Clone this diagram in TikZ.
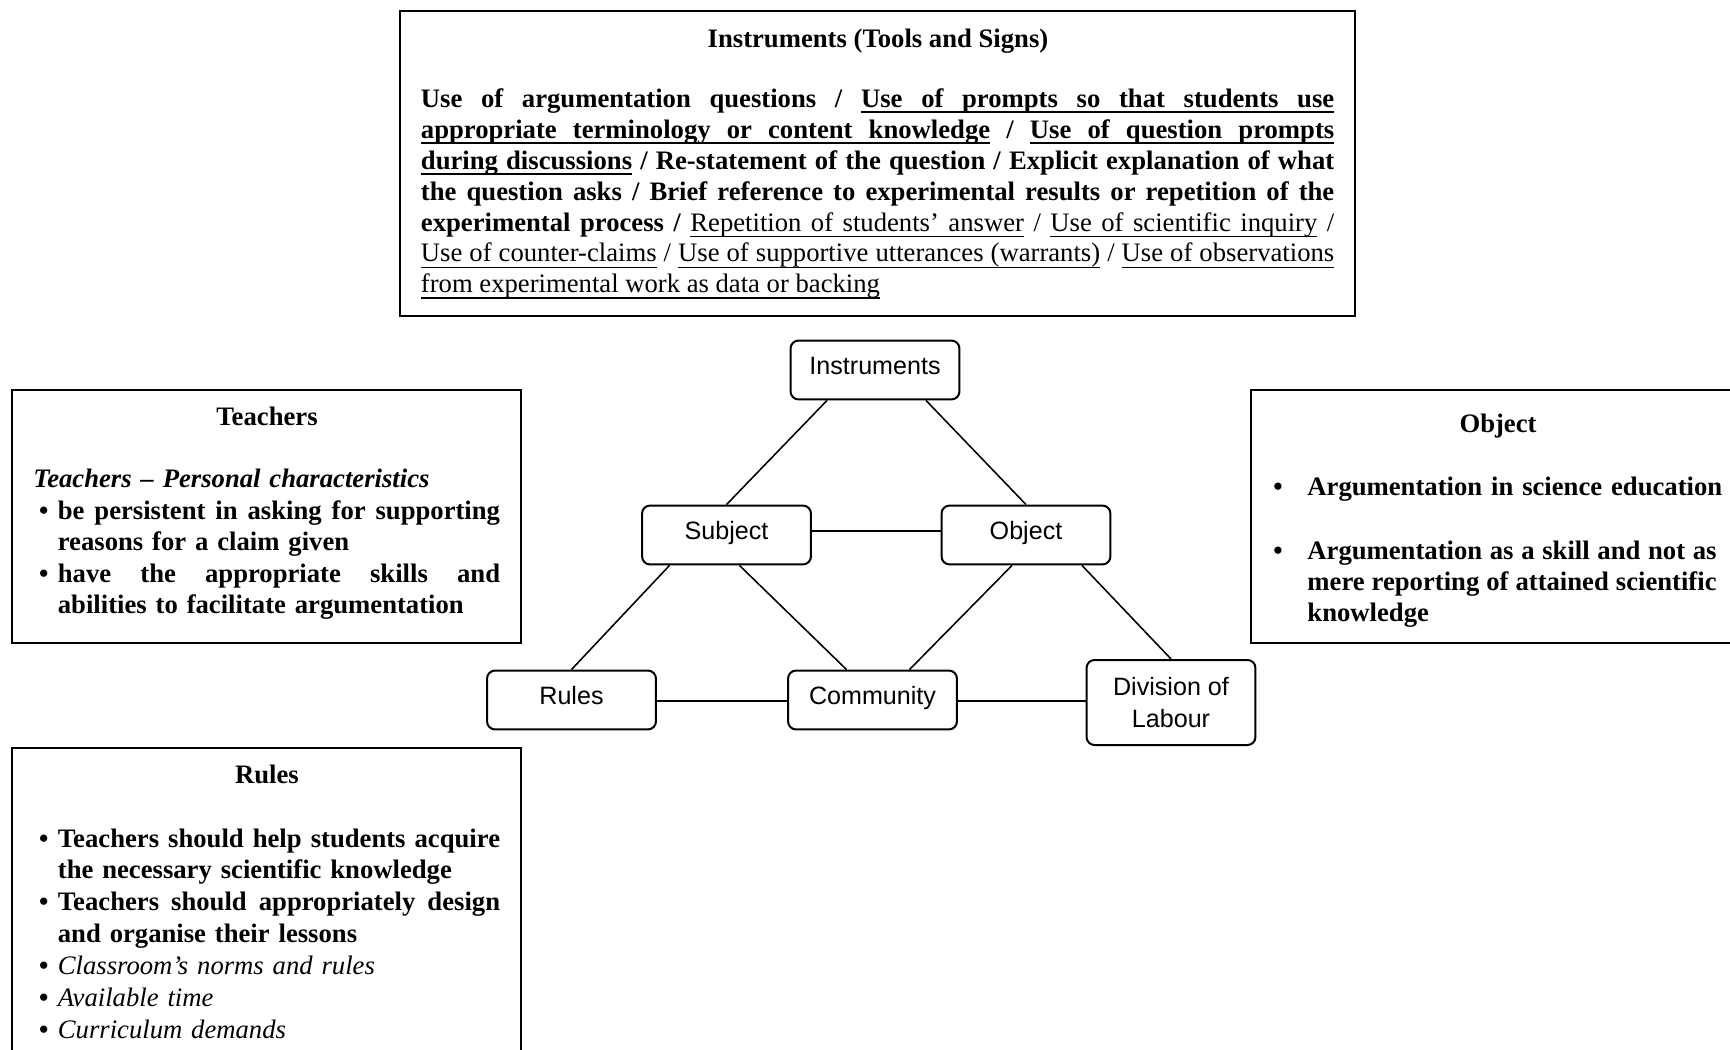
\documentclass[tikz,border=0pt]{standalone}
\usepackage{fontspec}
\setmainfont{Liberation Serif}
\newfontfamily\nodefont{Liberation Sans}
\usetikzlibrary{calc}

% one line of a text block: justified to the full width (all spaces stretch
% evenly), or left ragged
\newcommand\jline[1]{\noindent\hbox to\linewidth{%
  \spaceskip=\fontdimen2\font plus 1fil minus \fontdimen4\font\relax #1}\par}
\newcommand\rline[1]{\noindent\hbox to\linewidth{#1\hfill}\par}
% bullet item start and its continuation indent
\newlength\itemind
\newlength\bulletoff
\newcommand\bitem[1]{\hbox to\itemind{\hskip\bulletoff\textbullet\hfil}#1}
\newcommand\cont[1]{\hskip\itemind #1}

% underline that keeps the interword glue stretchable
\makeatletter
\def\ul@th{0.8pt}
\def\ul@rule{\vrule height\dimexpr\ul@th-2.6pt\relax depth 2.6pt}
\def\ul@word#1{\setbox\z@\hbox{#1}\rlap{\ul@rule width\wd\z@}\box\z@}
\def\ul@space{\leaders\ul@rule\hskip\fontdimen2\font plus 1fil minus\fontdimen4\font\relax}
\def\ul@parse#1 #2\ul@stop{\ul@word{#1}\ifx\relax#2\relax\else\ul@space\ul@parse#2\ul@stop\fi}
\newcommand\bu[1]{{\def\ul@th{0.85pt}\ul@parse#1 \ul@stop}}
\newcommand\ru[1]{{\def\ul@th{0.5pt}\ul@parse#1 \ul@stop}}
\makeatother

\tikzset{
  panel/.style={draw, line width=0.9pt},
  heading/.style={anchor=base, inner sep=0pt, font=\fontsize{12}{13.8}\selectfont\bfseries},
  block/.style={anchor=base west, inner sep=0pt},
  actnode/.style={draw, line width=0.9pt, rounded corners=3.6pt, fill=white,
    minimum width=76pt, minimum height=26.5pt, inner sep=1pt, align=center,
    font=\nodefont\fontsize{11.3}{14.4}\selectfont},
  oneline/.style={text height=8.1pt, text depth=4pt},
  link/.style={line width=0.7pt}
}

\begin{document}
\begin{tikzpicture}[x=0.45pt,y=-0.45pt]
\useasboundingbox (0,0) rectangle (1730,1050);
\fill[white] (0,0) rectangle (1730,1050);

% ---- Instruments panel ----
\draw[panel] (400,11) rectangle (1355,316);
\node[heading] (instHead) at (878,48) {Instruments (Tools and Signs)};
\node[block, text width=411pt,
      font=\fontsize{12}{13.9}\selectfont\bfseries] (instBody) at (420.5,107.5) {%
\jline{Use of argumentation questions / \bu{Use of prompts so that students use}}
\jline{\bu{appropriate terminology or content knowledge} / \bu{Use of question prompts}}
\jline{\bu{during discussions} / Re-statement of the question / Explicit explanation of what}
\jline{the question asks / Brief reference to experimental results or repetition of the}
\jline{experimental process / {\mdseries\ru{Repetition of students’ answer} / \ru{Use of scientific inquiry} /}}
\jline{\mdseries\ru{Use of counter-claims} / \ru{Use of supportive utterances (warrants)} / \ru{Use of observations}}
\rline{\mdseries\ru{from experimental work as data or backing}}};

% ---- Teachers panel ----
\draw[panel] (12,390) rectangle (521,643);
\node[heading] (teachHead) at (267,426) {Teachers};
\node[block, text width=210pt,
      font=\setlength\itemind{11pt}\setlength\bulletoff{2.5pt}\fontsize{12}{14.2}\selectfont\bfseries] (teachBody) at (33,487.5) {%
\rline{\textit{Teachers – Personal characteristics}}
\jline{\bitem{be persistent in asking for supporting}}
\rline{\cont{reasons for a claim given}}
\jline{\bitem{have the appropriate skills and}}
\rline{\cont{abilities to facilitate argumentation}}};

% ---- Rules panel ----
\draw[panel] (12,1070) -- (12,748) -- (521,748) -- (521,1070);
\node[heading] (rulesHead) at (267,783.5) {Rules};
\node[block, text width=210pt,
      font=\setlength\itemind{11pt}\setlength\bulletoff{2.5pt}\fontsize{12}{14.35}\selectfont\bfseries] (rulesBody) at (33,847) {%
\jline{\bitem{Teachers should help students acquire}}
\rline{\cont{the necessary scientific knowledge}}
\jline{\bitem{Teachers should appropriately design}}
\rline{\cont{and organise their lessons}}
\rline{\bitem{\mdseries\itshape Classroom’s norms and rules}}
\rline{\bitem{\mdseries\itshape Available time}}
\rline{\bitem{\mdseries\itshape Curriculum demands}}};

% ---- Object panel ----
\draw[panel] (1760,390) -- (1251,390) -- (1251,643) -- (1760,643);
\node[heading] (objHead) at (1498,433) {Object};
\node[block, text width=199.4pt,
      font=\setlength\itemind{15.3pt}\setlength\bulletoff{0pt}\fontsize{12}{13.9}\selectfont\bfseries] (objItemA) at (1273,496) {%
\rline{\bitem{Argumentation in science education}}};
\node[block, text width=199.4pt,
      font=\setlength\itemind{15.3pt}\setlength\bulletoff{0pt}\fontsize{12}{13.9}\selectfont\bfseries] (objItemB) at (1273,559.5) {%
\jline{\bitem{Argumentation as a skill and not as}}
\jline{\cont{mere reporting of attained scientific}}
\rline{\cont{knowledge}}};

% ---- activity system triangle ----
\node[actnode, oneline] (inst)  at (875,370)    {Instruments};
\node[actnode, oneline] (subj)  at (726.5,535)  {Subject};
\node[actnode, oneline] (obj)   at (1026,535)   {Object};
\node[actnode, oneline] (rules) at (571.5,700)  {Rules};
\node[actnode, oneline] (comm)  at (872.5,700)  {Community};
\node[actnode, minimum height=38.25pt] (div) at (1171,702.5) {Division of\\Labour};

\draw[link] ($(inst.south)+(-48,0)$) -- (subj.north);
\draw[link] ($(inst.south)+(51,0)$) -- (obj.north);
\draw[link] ($(subj.east)+(0,-4)$) -- ($(obj.west)+(0,-4)$);
\draw[link] ($(subj.south)+(-57,0)$) -- (rules.north);
\draw[link] ($(subj.south)+(13,0)$) -- ($(comm.north)+(-26,0)$);
\draw[link] ($(obj.south)+(-14,0)$) -- ($(comm.north)+(37,0)$);
\draw[link] ($(obj.south)+(56,0)$) -- (div.north);
\draw[link] ($(rules.east)+(0,1)$) -- ($(comm.west)+(0,1)$);
\draw[link] ($(comm.east)+(0,1)$) -- ($(comm.east -| div.west)+(0,1)$);
\end{tikzpicture}
\end{document}
